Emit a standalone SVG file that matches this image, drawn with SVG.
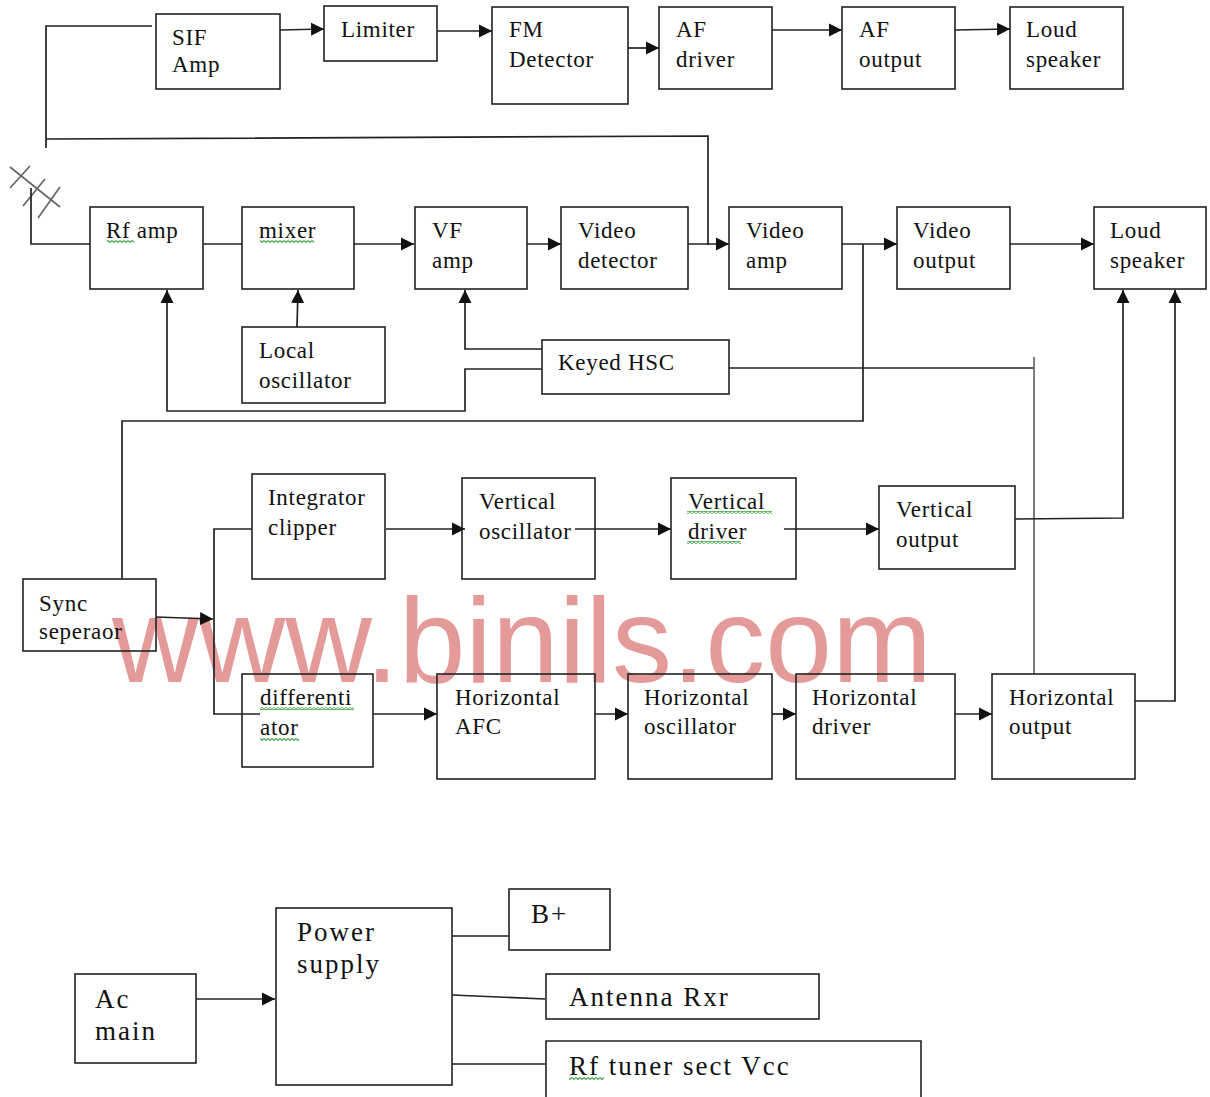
<svg xmlns="http://www.w3.org/2000/svg" width="1210" height="1097" viewBox="0 0 1210 1097">
<style>
.b{fill:none;stroke:#222;stroke-width:1.6}
.t{font-family:"Liberation Serif","Times New Roman",serif;font-size:23px;letter-spacing:.7px;fill:#111}
.l{font-family:"Liberation Serif","Times New Roman",serif;font-size:27px;letter-spacing:2px;fill:#111}
.c{fill:none;stroke:#222;stroke-width:1.7}
.a{marker-end:url(#ah)}
.g{stroke:#666}
.w{fill:url(#zz);stroke:none}
.wm{font-family:"Liberation Sans",Arial,sans-serif;font-size:120px;fill:#e59a9a}
</style>
<defs>
<marker id="ah" markerUnits="userSpaceOnUse" markerWidth="14" markerHeight="14" refX="13" refY="7" orient="auto"><path d="M0 0.5L13 7L0 13.500Z" fill="#111"/></marker>
<pattern id="zz" width="4" height="3" patternUnits="userSpaceOnUse"><path d="M0 .5L2 2.5L4 .5" fill="none" stroke="#3fa845" stroke-width="1.1"/></pattern>
</defs>
<rect width="1210" height="1097" fill="#fff"/>
<text class="wm" x="112" y="682" textLength="820">www.binils.com</text>
<g id="connectors">
<path class="c" d="M152 26H46V148"/>
<path class="c" d="M46 139L708 136V245"/>
<path class="c g" d="M10 167L60 207M30 166L10 188M45 179L23 206M60 187L38 218"/>
<path class="c" d="M31 188V244H90"/>
<path class="c a" d="M280 30L324 29"/>
<path class="c a" d="M437 31H492"/>
<path class="c a" d="M628 48H659"/>
<path class="c a" d="M772 30H842"/>
<path class="c a" d="M955 30L1010 29"/>
<path class="c" d="M203 244H242"/>
<path class="c a" d="M354 244H414"/>
<path class="c a" d="M527 244H561"/>
<path class="c a" d="M688 244H729"/>
<path class="c a" d="M842 244H897"/>
<path class="c a" d="M1010 244H1094"/>
<path class="c a" d="M297 327L298 290"/>
<path class="c a" d="M542 349H465V290"/>
<path class="c a" d="M542 369H465V411H167V290"/>
<path class="c" d="M729 368H1034"/>
<path class="c g" d="M1034 357V674"/>
<path class="c" d="M863 244V421H122V579"/>
<path class="c a" d="M386 529H465"/>
<path class="c a" d="M575 529H671"/>
<path class="c a" d="M784 529H879"/>
<path class="c a" d="M1015 519L1123 518V290"/>
<path class="c a" d="M1135 701H1175V290"/>
<path class="c a" d="M156 617L213 619"/>
<path class="c" d="M252 529H214V714H260"/>
<path class="c a" d="M373 714H437"/>
<path class="c a" d="M595 714H628"/>
<path class="c a" d="M772 714H796"/>
<path class="c a" d="M955 714H992"/>
<path class="c a" d="M196 999H275"/>
<path class="c" d="M452 936H509"/>
<path class="c" d="M452 995L545 999"/>
<path class="c" d="M452 1064H545"/>
</g>
<g id="sif"><rect class="b" x="156" y="14" width="124" height="75"/><text class="t" x="172" y="45">SIF</text><text class="t" x="172" y="72">Amp</text></g>
<g id="limiter"><rect class="b" x="324" y="6" width="113" height="55"/><text class="t" x="341" y="37">Limiter</text></g>
<g id="fm"><rect class="b" x="492" y="7" width="136" height="97"/><text class="t" x="509" y="37">FM</text><text class="t" x="509" y="67">Detector</text></g>
<g id="afd"><rect class="b" x="659" y="7" width="113" height="82"/><text class="t" x="676" y="37">AF</text><text class="t" x="676" y="67">driver</text></g>
<g id="afo"><rect class="b" x="842" y="7" width="113" height="82"/><text class="t" x="859" y="37">AF</text><text class="t" x="859" y="67">output</text></g>
<g id="ls1"><rect class="b" x="1010" y="7" width="113" height="82"/><text class="t" x="1026" y="37">Loud</text><text class="t" x="1026" y="67">speaker</text></g>
<g id="rf"><rect class="b" x="90" y="207" width="113" height="82"/><text class="t" x="106" y="238">Rf amp</text><rect class="w" x="107" y="240" width="27" height="3"/></g>
<g id="mixer"><rect class="b" x="242" y="207" width="112" height="82"/><text class="t" x="259" y="238">mixer</text><rect class="w" x="260" y="240" width="54" height="3"/></g>
<g id="vf"><rect class="b" x="415" y="207" width="112" height="82"/><text class="t" x="432" y="238">VF</text><text class="t" x="432" y="268">amp</text></g>
<g id="vdet"><rect class="b" x="561" y="207" width="127" height="82"/><text class="t" x="578" y="238">Video</text><text class="t" x="578" y="268">detector</text></g>
<g id="vamp"><rect class="b" x="729" y="207" width="113" height="82"/><text class="t" x="746" y="238">Video</text><text class="t" x="746" y="268">amp</text></g>
<g id="vout"><rect class="b" x="897" y="207" width="113" height="82"/><text class="t" x="913" y="238">Video</text><text class="t" x="913" y="268">output</text></g>
<g id="ls2"><rect class="b" x="1094" y="207" width="112" height="82"/><text class="t" x="1110" y="238">Loud</text><text class="t" x="1110" y="268">speaker</text></g>
<g id="lo"><rect class="b" x="242" y="327" width="143" height="76"/><text class="t" x="259" y="358">Local</text><text class="t" x="259" y="388">oscillator</text></g>
<g id="hsc"><rect class="b" x="542" y="340" width="187" height="54"/><text class="t" x="558" y="370">Keyed HSC</text></g>
<g id="ic"><rect class="b" x="252" y="474" width="133" height="105"/><text class="t" x="268" y="505">Integrator</text><text class="t" x="268" y="535">clipper</text></g>
<g id="vo"><rect class="b" x="462" y="478" width="133" height="101"/><text class="t" x="479" y="509">Vertical</text><text class="t" x="479" y="539">oscillator</text></g>
<g id="vd"><rect class="b" x="671" y="478" width="125" height="101"/><text class="t" x="688" y="509">Vertical</text><text class="t" x="688" y="539">driver</text><rect class="w" x="687" y="511" width="85" height="3"/><rect class="w" x="687" y="541" width="54" height="3"/></g>
<g id="vop"><rect class="b" x="879" y="486" width="136" height="83"/><text class="t" x="896" y="517">Vertical</text><text class="t" x="896" y="547">output</text></g>
<g id="sync"><rect class="b" x="23" y="579" width="133" height="72"/><text class="t" x="39" y="611">Sync</text><text class="t" x="39" y="639">seperaor</text></g>
<g id="diff"><rect class="b" x="242" y="674" width="131" height="93"/><text class="t" x="260" y="705">differenti</text><text class="t" x="260" y="735">ator</text><rect class="w" x="260" y="707" width="94" height="3"/><rect class="w" x="260" y="738" width="39" height="3"/></g>
<g id="afc"><rect class="b" x="437" y="674" width="158" height="105"/><text class="t" x="455" y="705">Horizontal</text><text class="t" x="455" y="734">AFC</text></g>
<g id="ho"><rect class="b" x="628" y="674" width="144" height="105"/><text class="t" x="644" y="705">Horizontal</text><text class="t" x="644" y="734">oscillator</text></g>
<g id="hd"><rect class="b" x="796" y="674" width="159" height="105"/><text class="t" x="812" y="705">Horizontal</text><text class="t" x="812" y="734">driver</text></g>
<g id="hop"><rect class="b" x="992" y="674" width="143" height="105"/><text class="t" x="1009" y="705">Horizontal</text><text class="t" x="1009" y="734">output</text></g>
<g id="ac"><rect class="b" x="75" y="974" width="121" height="89"/><text class="l" x="95" y="1008">Ac</text><text class="l" x="95" y="1040">main</text></g>
<g id="ps"><rect class="b" x="276" y="908" width="176" height="177"/><text class="l" x="297" y="941">Power</text><text class="l" x="297" y="973">supply</text></g>
<g id="bp"><rect class="b" x="509" y="889" width="101" height="61"/><text class="l" x="531" y="923">B+</text></g>
<g id="ant"><rect class="b" x="546" y="974" width="273" height="45"/><text class="l" x="569" y="1006">Antenna Rxr</text></g>
<g id="rft"><path class="b" d="M546 1097V1041H921V1097"/><text class="l" x="569" y="1075">Rf tuner sect Vcc</text><rect class="w" x="569" y="1077" width="35" height="3"/></g>
</svg>
